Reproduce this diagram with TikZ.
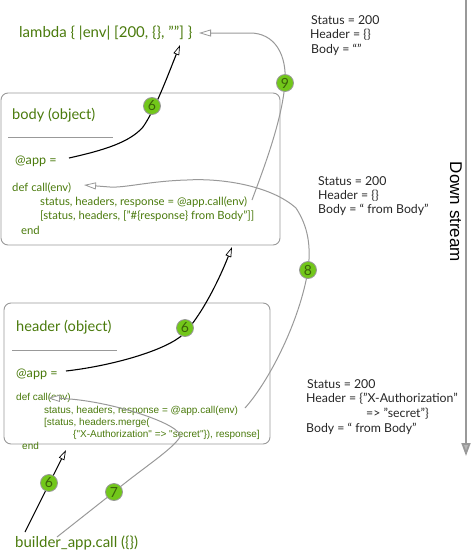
\documentclass[tikz,border=0pt]{standalone}
\usepackage{fontspec}
\setmainfont{Lato}
\newfontfamily\arialfont{Liberation Sans}
\usetikzlibrary{arrows.meta}
\definecolor{codegreen}{HTML}{4A7A0C}
\definecolor{badgegreen}{HTML}{72C71A}
\definecolor{linegray}{HTML}{999999}
\tikzset{
  x=1pt,y=-1pt,
  objbox/.style={draw=linegray,line width=0.9pt,rounded corners=7pt},
  sep/.style={draw=linegray,line width=0.7pt},
  ctext/.style={anchor=west,inner sep=0pt,text=codegreen,font=\fontsize{12}{14}\selectfont},
  title/.style={ctext,font=\fontsize{14.6}{16}\selectfont},
  bigtitle/.style={ctext,font=\fontsize{15}{17}\selectfont},
  appt/.style={ctext,font=\fontsize{12.6}{15}\selectfont},
  code/.style={ctext,font=\fontsize{11.3}{13}\selectfont},
  acode/.style={ctext,font=\arialfont\fontsize{10}{11}\selectfont},
  note/.style={anchor=west,inner sep=0pt,text=black!85,font=\fontsize{12.3}{14}\selectfont},
  badge/.style={circle,fill=badgegreen,draw=linegray,line width=0.8pt,minimum size=17pt,inner sep=0pt,text=codegreen!80!black,font=\fontsize{14}{16}\selectfont},
  blackflow/.style={draw=black,line width=1.1pt,-{Triangle[length=10pt,width=6pt,fill=white,line width=0.7pt]}},
  grayflow/.style={draw=linegray,line width=1pt,-{Triangle[length=12pt,width=7pt,fill=white,line width=0.8pt]}},
  streamline/.style={draw=linegray,line width=1.8pt,-{Triangle[length=13pt,width=9pt,fill=linegray!70]}}
}
\begin{document}
\begin{tikzpicture}
\useasboundingbox (0,0) rectangle (471,552);
% boxes
\node[objbox,minimum width=279pt,minimum height=152pt,inner sep=0pt] (bodybox) at (140.5,169) {};
\node[objbox,minimum width=266pt,minimum height=141pt,inner sep=0pt] (headerbox) at (137,373.5) {};
% top labels
\node[bigtitle] (lam) at (19,33) {lambda \{ |env| [200, \{\}, ""] \}};
\node[title] (bodyt) at (12,115) {body (object)};
\coordinate (bs1) at (8,137); \coordinate (bs2) at (113,137);
\draw[sep] (bs1) -- (bs2);
\node[appt] (app1) at (15,161) {@app =};
\node[code] (def1) at (12,188) {def call(env)};
\node[code] (st1) at (40,202) {status, headers, response = @app.call(env)};
\node[code] (re1) at (40,216) {[status, headers, ["\#\{response\} from Body"]]};
\node[code] (en1) at (21,230) {end};
% header labels
\node[title] (headt) at (16,327) {header (object)};
\coordinate (hs1) at (12,350); \coordinate (hs2) at (117,350);
\draw[sep] (hs1) -- (hs2);
\node[appt] (app2) at (16,374) {@app =};
\node[acode] (def2) at (16,398) {def call(env)};
\node[acode] (st2) at (44,410.5) {status, headers, response = @app.call(env)};
\node[acode] (re2) at (44,423) {[status, headers.merge(};
\node[acode] (me2) at (73,435) {\{"X-Authorization" => "secret"\}), response]};
\node[acode] (en2) at (22,446) {end};
\node[bigtitle] (builder) at (15,543) {builder\_app.call (\{\})};
% notes
\node[note] (n1a) at (311,20) {Status = 200};
\node[note] (n1b) at (310,35) {Header = \{\}};
\node[note] (n1c) at (311,50) {Body = “”};
\node[note] (n2a) at (318,181) {Status = 200};
\node[note] (n2b) at (318,196) {Header = \{\}};
\node[note] (n2c) at (318,210) {Body = “ from Body”};
\node[note] (n3a) at (307,384) {Status = 200};
\node[note] (n3b) at (306,399) {Header = \{"X-Authorization"};
\node[note] (n3c) at (366,414) {=> "secret"\}};
\node[note] (n3d) at (306,429) {Body = “ from Body”};
% free ends
\coordinate (a1s) at (69,158); \coordinate (a1e) at (180,45);
\coordinate (a2s) at (66,371); \coordinate (a2e) at (232,247);
\coordinate (a3s) at (25,532); \coordinate (a3e) at (66,450);
\coordinate (g7s) at (57,537); \coordinate (g7e) at (48,398);
\coordinate (g8s) at (245,408); \coordinate (g8e) at (84,185);
\coordinate (g9s) at (252,200); \coordinate (g9e) at (199,33);
\coordinate (dss) at (466,0); \coordinate (dse) at (466,456);
% badges positions
\coordinate (b6a) at (152,106); \coordinate (b6b) at (185,328); \coordinate (b6c) at (49,483);
\coordinate (b7) at (114,492); \coordinate (b8) at (308,270); \coordinate (b9) at (285,83);
% connectors
\draw[blackflow] (a1s) .. controls (105,150) and (130,142) .. (143,127) .. controls (155,110) and (168,75) .. (a1e);
\draw[blackflow] (a2s) .. controls (110,366) and (160,352) .. (180,337) .. controls (195,325) and (215,290) .. (a2e);
\draw[blackflow] (a3s) -- (a3e);
\draw[grayflow] (g7s) -- (b7) .. controls (140,470) and (172,450) .. (180,437) .. controls (184,425) and (110,400) .. (g7e);
\draw[grayflow] (g8s) .. controls (270,380) and (300,320) .. (b8) .. controls (312,240) and (305,222) .. (296,208) .. controls (270,185) and (220,178) .. (187,180) .. controls (150,181) and (125,188) .. (110,187) -- (g8e);
\draw[grayflow] (g9s) .. controls (265,165) and (282,120) .. (b9) .. controls (287,55) and (275,33) .. (250,33) -- (g9e);
\draw[streamline] (dss) -- (dse);
\node[badge] (n6a) at (b6a) {6};
\node[badge] (n6b) at (b6b) {6};
\node[badge] (n6c) at (b6c) {6};
\node[badge] (n7) at (b7) {7};
\node[badge] (n8) at (b8) {8};
\node[badge] (n9) at (b9) {9};
\node[rotate=-90,inner sep=0pt,font=\arialfont\fontsize{17}{19}\selectfont] (ds) at (456,212) {Down stream};
\end{tikzpicture}
\end{document}
